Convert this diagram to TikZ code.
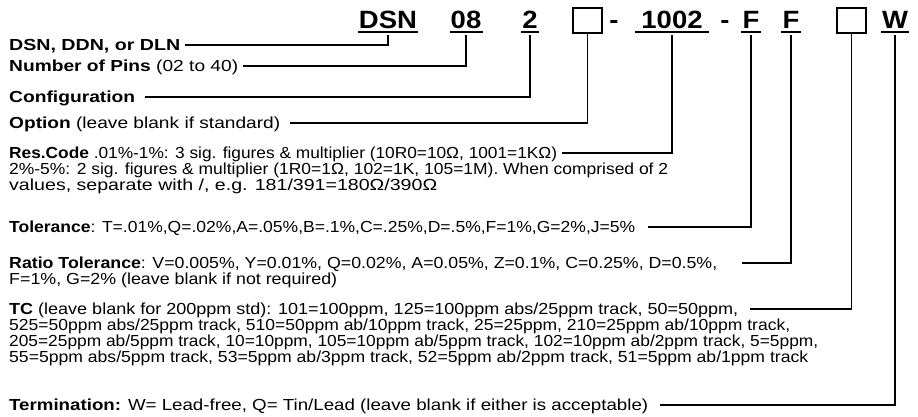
\documentclass[tikz,border=0pt]{standalone}
\usepackage{graphicx}
\usepackage{fontspec}
\setmainfont[FakeStretch=1.1]{Liberation Sans}
\newcommand{\fitw}[2]{\resizebox{#1pt}{\height}{#2}}
\tikzset{
  rowtext/.style={anchor=west, inner xsep=5pt, inner ysep=0pt, text height=12pt, text depth=0.5pt},
  moretext/.style={anchor=base west, inner xsep=5pt, inner ysep=0pt},
  codetext/.style={anchor=base, font=\fontsize{25}{25}\selectfont\bfseries, inner xsep=1pt, inner ysep=4pt, text depth=0pt},
  codebox/.style={draw, line width=1.6pt, minimum width=29pt, minimum height=25pt, inner sep=0pt},
  lead/.style={line width=1.6pt},
}
\begin{document}
\begin{tikzpicture}[x=1pt, y=-1pt, font=\fontsize{16}{16}\selectfont]
	\useasboundingbox (0,0) rectangle (918,416);
	
	% Bestellnummer oben
	\node[codetext] (dsn) at (388,28) {DSN};
	\node[codetext] (pins) at (466,28) {08};
	\node[codetext] (cfg) at (530,28) {2};
	\node[codebox] (optbox) at (587.5,20.5) {};
	\node[codetext] (dashA) at (614,28) {-};
	\node[codetext, inner xsep=6pt] (resc) at (672,28) {1002};
	\node[codetext] (dashB) at (725,28) {-};
	\node[codetext] (tolc) at (751,28) {F};
	\node[codetext] (rtolc) at (791,28) {F};
	\node[codebox] (tcbox) at (851.5,20.5) {};
	\node[codetext] (termc) at (895,28) {W};
	\foreach \n in {dsn,pins,cfg,resc,tolc,rtolc,termc}
		\draw[lead] (\n.south west) -- (\n.south east);
	
	% Erklaerungen links
	\node[rowtext] (dsnrow) at (4,45) {\fitw{171}{\textbf{DSN, DDN, or DLN}}};
	\node[rowtext] (pinsrow) at (4,66) {\fitw{229}{\textbf{Number of Pins} (02 to 40)}};
	\node[rowtext] (cfgrow) at (4,97) {\fitw{126}{\textbf{Configuration}}};
	\node[rowtext] (optrow) at (4,123) {\fitw{271}{\textbf{Option} (leave blank if standard)}};
	\node[rowtext] (rescrow) at (4,153) {\fitw{548}{\textbf{Res.Code} .01\%-1\%: 3 sig. figures \& multiplier (10R0=10Ω, 1001=1KΩ)}};
	\node[moretext] (rescrowb) at (4,174.75) {\fitw{659}{2\%-5\%: 2 sig. figures \& multiplier (1R0=1Ω, 102=1K, 105=1M). When comprised of 2}};
	\node[moretext] (rescrowc) at (4,190.75) {\fitw{428}{values, separate with /, e.g. 181/391=180Ω/390Ω}};
	\node[rowtext] (tolrow) at (4,227) {\fitw{626}{\textbf{Tolerance}: T=.01\%,Q=.02\%,A=.05\%,B=.1\%,C=.25\%,D=.5\%,F=1\%,G=2\%,J=5\%}};
	\node[rowtext] (rtolrow) at (4,263) {\fitw{708}{\textbf{Ratio Tolerance}: V=0.005\%, Y=0.01\%, Q=0.02\%, A=0.05\%, Z=0.1\%, C=0.25\%, D=0.5\%,}};
	\node[moretext] (rtolrowb) at (4,284.75) {\fitw{328}{F=1\%, G=2\% (leave blank if not required)}};
	\node[rowtext] (tcrow) at (4,309) {\fitw{729}{\textbf{TC} (leave blank for 200ppm std): 101=100ppm, 125=100ppm abs/25ppm track, 50=50ppm,}};
	\node[moretext] (tcrowb) at (4,330.75) {\fitw{781}{525=50ppm abs/25ppm track, 510=50ppm ab/10ppm track, 25=25ppm, 210=25ppm ab/10ppm track,}};
	\node[moretext] (tcrowc) at (4,346.75) {\fitw{809}{205=25ppm ab/5ppm track, 10=10ppm, 105=10ppm ab/5ppm track, 102=10ppm ab/2ppm track, 5=5ppm,}};
	\node[moretext] (tcrowd) at (4,362.75) {\fitw{799}{55=5ppm abs/5ppm track, 53=5ppm ab/3ppm track, 52=5ppm ab/2ppm track, 51=5ppm ab/1ppm track}};
	\node[rowtext] (termrow) at (4,405) {\fitw{639}{\textbf{Termination:} W= Lead-free, Q= Tin/Lead (leave blank if either is acceptable)}};
	
	% Verbindungslinien
	\draw[lead, shorten >=3pt] (dsnrow.east) -| (dsn.south);
	\draw[lead, shorten >=3pt] (pinsrow.east) -| (pins.south);
	\draw[lead, shorten >=3pt] ([xshift=5pt]cfgrow.east) -| (cfg.south);
	\draw[lead] ([xshift=5pt]optrow.east) -| (optbox.south);
	\draw[lead, shorten >=3pt] (rescrow.east) -| (resc.south);
	\draw[lead, shorten >=3pt] ([xshift=8pt]tolrow.east) -| (tolc.south);
	\draw[lead, shorten >=3pt] ([xshift=20pt]rtolrow.east) -| (rtolc.south);
	\draw[lead] ([xshift=7pt]tcrow.east) -| (tcbox.south);
	\draw[lead, shorten >=3pt] ([xshift=7pt]termrow.east) -| (termc.south);
\end{tikzpicture}
\end{document}
